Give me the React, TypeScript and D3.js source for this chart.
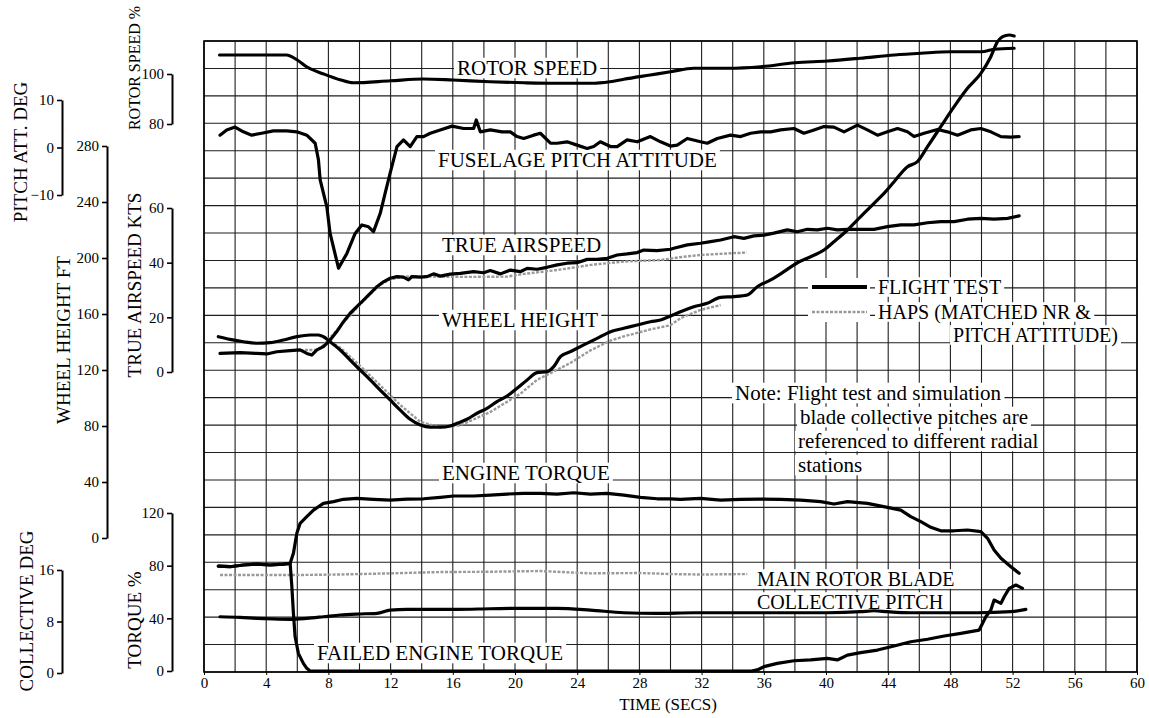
import React, { useEffect, useRef } from 'react';
import * as d3 from 'd3';

const W = 1149;
const H = 718;
const FONT = '"Liberation Serif", "Times New Roman", Times, serif';

// ---------- tick labels ----------
const timeTicks = [0, 4, 8, 12, 16, 20, 24, 28, 32, 36, 40, 44, 48, 52, 56, 60];
const pitchTicks = [-10, 0, 10];
const wheelTicks = [0, 40, 80, 120, 160, 200, 240, 280];
const rotorTicks = [80, 100];
const airTicks = [0, 20, 40, 60];
const torqueTicks = [0, 40, 80, 120];
const collTicks = [0, 8, 16];

// ---------- series (time s, value) ----------
const rotorSpeedFT: [number, number][] = [
  [1.0, 107.6], [5.3, 107.6], [6.0, 105.6], [6.6, 102.9], [7.7, 100.0], [8.8, 97.6], [9.6, 96.5],
  [12.0, 97.3], [14.1, 98.0], [16.0, 97.6], [18.4, 96.9], [20.6, 96.5], [22.7, 96.3], [24.9, 96.3],
  [26.1, 96.9], [27.0, 97.9], [28.7, 99.6], [30.0, 100.9], [31.5, 102.3], [33.7, 102.3], [35.8, 102.9],
  [38.0, 104.5], [40.1, 105.2], [42.2, 106.3], [44.4, 107.6], [46.1, 108.3], [48.0, 108.9], [50.0, 108.9],
  [50.8, 109.9], [52.1, 110.3],
];

const pitchFT: [number, number][] = [
  [1.03, 2.6], [1.46, 3.7], [2.0, 4.3], [2.53, 3.3], [3.07, 2.6], [3.71, 3.0], [4.46, 3.5], [5.32, 3.5],
  [5.97, 3.3], [6.61, 2.6], [7.15, 0.9], [7.36, -2.6], [7.47, -6.8], [7.9, -12.5], [8.11, -18.1],
  [8.65, -25.4], [9.19, -22.3], [9.72, -18.1], [10.15, -16.3], [10.58, -16.7], [10.9, -17.7],
  [11.33, -13.9], [11.65, -9.6], [11.97, -5.4], [12.41, 0.2], [12.83, 1.6], [13.26, 0.2], [13.69, 2.3],
  [14.12, 2.3], [14.55, 3.0], [15.19, 3.7], [15.95, 4.5], [16.69, 4.0], [17.34, 4.0], [17.51, 5.8],
  [17.77, 3.3], [18.41, 3.7], [19.17, 3.3], [19.7, 3.3], [20.13, 2.3], [20.56, 1.9], [21.2, 2.6],
  [21.63, 3.0], [22.28, 0.9], [22.71, 0.9], [23.35, 1.2], [23.99, 0.5], [24.64, -0.2], [25.06, 0.2],
  [25.49, 1.2], [26.14, 0.2], [26.57, 0.2], [27.21, 1.6], [27.86, 1.2], [28.71, 2.3], [29.36, 1.2],
  [30.0, 0.3], [30.43, 0.5], [31.08, 1.9], [31.93, 1.2], [32.36, 0.9], [33.01, 1.9], [33.86, 2.6],
  [34.51, 2.3], [35.15, 3.0], [35.79, 3.3], [36.44, 3.3], [37.08, 3.7], [37.94, 4.0], [38.58, 3.0],
  [39.23, 3.7], [39.87, 4.4], [40.51, 4.3], [41.16, 3.3], [42.02, 4.7], [42.66, 3.7], [43.31, 2.6],
  [43.95, 3.3], [44.6, 4.0], [45.24, 3.3], [45.66, 2.3], [46.31, 3.0], [47.17, 3.8], [47.81, 3.3],
  [48.46, 2.6], [49.31, 3.7], [49.96, 4.0], [50.6, 3.3], [51.25, 2.3], [51.89, 2.2], [52.42, 2.3],
];

const airspeedFT: [number, number][] = [
  [1.03, 6.8], [2.32, 7.1], [3.39, 6.8], [4.04, 6.6], [4.68, 7.4], [5.54, 7.8], [6.18, 8.1], [6.61, 6.8],
  [6.93, 6.2], [7.26, 8.1], [7.68, 9.3], [8.11, 11.7], [8.54, 14.8], [8.97, 18.4], [9.4, 21.5],
  [9.83, 23.9], [10.26, 26.3], [10.69, 28.8], [11.12, 31.2], [11.54, 33.0], [11.97, 34.3], [12.41, 34.9],
  [12.83, 34.7], [13.15, 33.7], [13.37, 34.9], [13.91, 34.7], [14.34, 34.9], [14.76, 35.9], [15.19, 35.1],
  [15.84, 35.8], [16.48, 36.1], [17.34, 36.7], [17.98, 36.3], [18.41, 37.1], [19.06, 35.9], [19.7, 37.3],
  [20.34, 36.7], [20.78, 37.9], [21.42, 37.6], [22.06, 38.3], [22.71, 39.2], [23.35, 39.8], [23.99, 40.0],
  [24.64, 41.2], [25.28, 41.2], [25.93, 41.6], [26.57, 42.8], [27.21, 43.2], [27.86, 43.7], [28.28, 44.6],
  [29.14, 44.4], [30.0, 44.9], [30.21, 45.3], [31.08, 46.5], [31.93, 47.1], [32.58, 47.7], [33.22, 48.3],
  [34.08, 49.5], [34.72, 48.9], [35.36, 49.8], [36.01, 50.1], [36.65, 50.8], [37.51, 52.0], [38.16, 51.3],
  [38.8, 52.2], [39.44, 52.0], [40.09, 52.6], [40.73, 52.0], [41.38, 52.2], [42.24, 52.2], [43.09, 52.2],
  [43.95, 53.2], [44.81, 53.8], [45.66, 53.8], [46.53, 54.6], [47.38, 55.0], [48.24, 55.0], [49.1, 55.9],
  [49.96, 56.2], [50.81, 55.9], [51.68, 56.2], [52.42, 57.1],
];

const airspeedHAPS: [number, number][] = [
  [6.2, 8.0], [7.3, 8.1], [7.7, 9.9], [9.0, 18.3], [10.3, 26.3], [11.3, 31.8], [12.0, 34.0], [13.3, 35.1],
  [15.2, 34.8], [17.1, 34.8], [19.5, 34.9], [20.6, 35.9], [22.7, 37.3], [24.9, 39.2], [27.0, 40.4],
  [29.4, 41.0], [30.6, 42.0], [31.9, 42.8], [33.7, 43.4], [34.9, 43.7],
];

const wheelHeightFT: [number, number][] = [
  [0.92, 143.8], [1.67, 141.9], [2.53, 140.2], [3.39, 139.1], [4.25, 139.5], [5.11, 141.4], [5.97, 143.8],
  [6.82, 145.0], [7.36, 145.0], [7.68, 143.8], [8.11, 140.2], [8.76, 134.3], [9.4, 127.1], [10.04, 120.0],
  [10.69, 112.9], [11.33, 105.7], [11.97, 98.6], [12.62, 91.4], [13.26, 84.8], [13.91, 80.7], [14.55, 79.1],
  [15.19, 79.1], [15.84, 80.0], [16.27, 81.9], [16.91, 84.8], [17.56, 89.1], [18.2, 92.6], [18.84, 97.4],
  [19.49, 101.4], [20.13, 106.9], [20.78, 112.9], [21.42, 118.1], [22.06, 118.8], [22.49, 122.4],
  [22.92, 129.5], [23.56, 133.1], [24.42, 137.9], [25.28, 142.6], [26.14, 147.4], [26.99, 149.8],
  [27.86, 152.1], [28.71, 154.5], [29.36, 155.7], [30.0, 158.6], [30.64, 161.6], [31.5, 165.2],
  [32.36, 167.6], [33.22, 171.9], [34.08, 172.4], [34.94, 173.6], [35.58, 179.5], [36.44, 184.3],
  [37.29, 190.2], [38.16, 196.6], [39.01, 200.9], [39.87, 205.7], [40.51, 211.6], [41.38, 220.0],
  [42.23, 229.5], [43.09, 239.1], [43.73, 246.2], [44.38, 254.5], [45.24, 265.2], [45.88, 268.8],
  [46.53, 279.5], [47.38, 293.8], [48.24, 308.1], [49.1, 321.2], [49.96, 331.9], [50.6, 343.8],
  [51.03, 354.5], [51.36, 358.1], [51.78, 359.3], [52.1, 358.6],
];

const wheelHeightHAPS: [number, number][] = [
  [7.4, 145.0], [8.76, 136.0], [10.04, 123.0], [11.33, 109.0], [12.62, 95.0], [13.91, 83.0], [15.19, 79.0],
  [16.48, 80.5], [18.41, 90.0], [20.34, 103.0], [21.42, 113.0], [22.5, 119.0], [23.56, 125.0],
  [24.85, 134.0], [26.14, 141.0], [27.0, 144.0], [28.71, 149.0], [30.0, 152.0], [30.64, 157.0],
  [31.93, 162.9], [33.22, 166.4],
];

const engineTorqueFT: [number, number][] = [
  [0.92, 79.7], [1.67, 79.2], [2.53, 80.5], [3.39, 81.2], [4.25, 80.5], [5.11, 81.2], [5.54, 81.8],
  [5.75, 89.4], [5.97, 104.6], [6.18, 112.1], [6.61, 117.2], [7.04, 122.2], [7.68, 127.3], [8.33, 128.6],
  [8.97, 130.4], [9.83, 131.1], [10.9, 130.4], [11.97, 129.8], [13.05, 130.6], [14.12, 130.8],
  [15.19, 131.9], [16.05, 132.9], [17.34, 132.9], [18.41, 133.6], [19.49, 134.4], [20.56, 134.9],
  [21.63, 134.9], [22.71, 134.4], [23.78, 135.4], [24.85, 134.4], [25.92, 134.9], [27.0, 133.6],
  [28.07, 131.9], [29.14, 130.8], [30.0, 130.8], [30.64, 130.4], [31.93, 131.1], [33.22, 129.8],
  [34.51, 130.4], [35.79, 130.6], [37.08, 130.4], [38.37, 129.8], [39.66, 128.6], [40.51, 126.8],
  [41.38, 128.6], [42.66, 127.3], [43.95, 124.3], [44.81, 122.2], [45.45, 117.2], [46.1, 113.4],
  [46.74, 109.1], [47.38, 106.5], [48.24, 106.5], [49.1, 107.1], [49.96, 105.8], [50.39, 100.8],
  [50.81, 91.9], [51.25, 85.6], [51.89, 79.2], [52.42, 74.2],
];

const failedTorqueFT: [number, number][] = [
  [0.92, 79.7], [1.67, 79.2], [2.53, 80.5], [3.39, 81.2], [4.25, 80.5], [5.11, 81.2], [5.54, 81.8],
  [5.65, 64.0], [5.75, 43.8], [5.86, 26.0], [6.07, 13.4], [6.39, 5.8], [6.61, 2.0], [6.82, 0.0],
  [35.2, 0.0], [35.58, 0.8], [36.01, 3.3], [36.87, 5.8], [37.94, 7.8], [39.01, 8.4], [40.09, 9.6],
  [40.73, 8.4], [41.38, 12.1], [42.23, 13.9], [43.31, 15.9], [44.38, 19.0], [45.45, 22.2], [46.53, 24.1],
  [47.6, 26.6], [48.67, 28.6], [49.85, 31.1], [50.07, 36.2], [50.28, 41.2], [50.6, 46.3], [50.81, 53.9],
  [51.25, 51.4], [51.46, 56.4], [51.78, 62.8], [52.21, 65.3], [52.64, 62.8],
];

const collectiveFT: [number, number][] = [
  [1.03, 8.74], [2.32, 8.65], [3.39, 8.49], [4.46, 8.39], [5.54, 8.34], [6.61, 8.49], [7.68, 8.74],
  [8.76, 9.01], [9.83, 9.16], [11.12, 9.27], [11.97, 9.78], [13.05, 9.89], [14.12, 9.89], [16.27, 9.89],
  [18.41, 9.98], [20.56, 10.05], [22.71, 10.05], [24.85, 9.78], [27.0, 9.36], [29.14, 9.27], [31.5, 9.36],
  [33.65, 9.36], [35.79, 9.36], [37.94, 9.36], [40.09, 9.36], [42.23, 9.52], [43.09, 9.67], [43.95, 9.52],
  [45.45, 9.36], [47.6, 9.36], [49.74, 9.36], [51.89, 9.52], [52.85, 9.89],
];

const collectiveHAPS: [number, number][] = [
  [1.03, 15.22], [5.54, 15.22], [5.97, 15.22], [8.76, 15.3], [11.97, 15.48], [15.19, 15.68], [18.41, 15.73],
  [21.63, 15.84], [24.85, 15.48], [28.07, 15.53], [30.0, 15.37], [31.93, 15.3], [34.94, 15.37],
];

// ---------- annotation text ----------
const curveLabels = [
  { text: 'ROTOR SPEED', x: 457, y: 68, size: 21 },
  { text: 'FUSELAGE PITCH ATTITUDE', x: 438, y: 160, size: 21 },
  { text: 'TRUE AIRSPEED', x: 442, y: 245, size: 21 },
  { text: 'WHEEL HEIGHT', x: 442, y: 320, size: 21 },
  { text: 'ENGINE TORQUE', x: 442, y: 473, size: 21 },
  { text: 'MAIN ROTOR BLADE', x: 757, y: 579, size: 20 },
  { text: 'COLLECTIVE PITCH', x: 757, y: 602, size: 20 },
  { text: 'FAILED ENGINE TORQUE', x: 317, y: 653, size: 21 },
];
const legendLabels = ['FLIGHT TEST', 'HAPS (MATCHED NR &', 'PITCH ATTITUDE)'];
const noteLines = [
  'Note: Flight test and simulation',
  'blade collective pitches are',
  'referenced to different radial',
  'stations',
];

export default function App() {
  const ref = useRef<SVGSVGElement>(null);

  useEffect(() => {
    const svg = d3.select(ref.current);
    svg.selectAll('*').remove();

    const x0 = 204, x1 = 1137, yTop = 41, yBot = 672;
    const x = d3.scaleLinear().domain([0, 60]).range([x0, x1]);
    const gridY = d3.scaleLinear().domain([0, 23]).range([yBot, yTop]);

    const rotorY = d3.scaleLinear().domain([80, 100]).range([124, 74]);
    const pitchY = d3.scaleLinear().domain([-10, 10]).range([195, 100]);
    const wheelY = d3.scaleLinear().domain([0, 280]).range([538, 146]);
    const airY = d3.scaleLinear().domain([0, 60]).range([372, 208]);
    const torqueY = d3.scaleLinear().domain([0, 120]).range([671, 513]);
    const collY = d3.scaleLinear().domain([0, 16]).range([673, 570]);

    const gGrid = svg.append('g');
    const gBox = svg.append('g');
    const gLines = svg.append('g');
    const gText = svg.append('g').attr('font-family', FONT).attr('fill', '#000');

    // grid
    gGrid.selectAll('line.v').data(d3.range(0, 61, 2)).join('line')
      .attr('x1', (d) => x(d)).attr('x2', (d) => x(d)).attr('y1', yTop).attr('y2', yBot)
      .attr('stroke', '#1e1e1e').attr('stroke-width', 1.1);
    gGrid.selectAll('line.h').data(d3.range(0, 24)).join('line')
      .attr('x1', x0).attr('x2', x1).attr('y1', (d) => gridY(d)).attr('y2', (d) => gridY(d))
      .attr('stroke', '#1e1e1e').attr('stroke-width', 1.1);
    gGrid.append('rect').attr('x', x0).attr('y', yTop).attr('width', x1 - x0).attr('height', yBot - yTop)
      .attr('fill', 'none').attr('stroke', '#000').attr('stroke-width', 1.6);

    // x axis
    const xa = svg.append('g').attr('transform', `translate(0,${yBot})`)
      .call(d3.axisBottom(x).tickValues(timeTicks).tickSize(3).tickPadding(2));
    xa.select('.domain').remove();
    xa.attr('font-family', FONT).attr('font-size', 15);
    xa.selectAll('text').attr('fill', '#000');
    xa.selectAll('line').attr('stroke', '#000');
    svg.append('text').attr('x', 668).attr('y', 710).attr('text-anchor', 'middle')
      .attr('font-family', FONT).attr('font-size', 17).text('TIME (SECS)');

    // left axes
    const leftAxis = (scale: d3.ScaleLinear<number, number>, ticks: number[], xPos: number) => {
      const g = svg.append('g').attr('transform', `translate(${xPos},0)`)
        .call(d3.axisLeft(scale).tickValues(ticks).tickSize(5).tickSizeOuter(0).tickPadding(3));
      g.attr('font-family', FONT).attr('font-size', 15);
      g.select('.domain').attr('stroke', '#000').attr('stroke-width', 2);
      g.selectAll('line').attr('stroke', '#000').attr('stroke-width', 1.6);
      g.selectAll('text').attr('fill', '#000');
    };
    leftAxis(pitchY, pitchTicks, 62);
    leftAxis(collY, collTicks, 62);
    leftAxis(wheelY, wheelTicks, 107);
    leftAxis(rotorY, rotorTicks, 172);
    leftAxis(airY, airTicks, 172);
    leftAxis(torqueY, torqueTicks, 172);

    const title = (t: string, xb: number, yc: number, size: number) => {
      svg.append('text').attr('transform', `translate(${xb},${yc}) rotate(-90)`)
        .attr('text-anchor', 'middle').attr('font-family', FONT).attr('font-size', size).text(t);
    };
    title('PITCH ATT. DEG', 27, 152, 19);
    title('WHEEL HEIGHT FT', 70, 340, 19);
    title('ROTOR SPEED %', 140, 68, 16);
    title('TRUE AIRSPEED KTS', 141, 285, 19);
    title('TORQUE %', 141, 620, 19);
    title('COLLECTIVE DEG', 33, 611, 19);

    // curves
    const mk = (sy: d3.ScaleLinear<number, number>, curve: d3.CurveFactory) =>
      d3.line<[number, number]>().x((d) => x(d[0])).y((d) => sy(d[1])).curve(curve);
    const ft = (data: [number, number][], sy: d3.ScaleLinear<number, number>, curve: d3.CurveFactory, w = 3.2) =>
      gLines.append('path').attr('d', mk(sy, curve)(data)).attr('fill', 'none').attr('stroke', '#000')
        .attr('stroke-width', w).attr('stroke-linejoin', 'round').attr('stroke-linecap', 'round');
    const haps = (data: [number, number][], sy: d3.ScaleLinear<number, number>) =>
      gLines.append('path').attr('d', mk(sy, d3.curveLinear)(data)).attr('fill', 'none').attr('stroke', '#9a9a9a')
        .attr('stroke-width', 2.4).attr('stroke-dasharray', '3 1.5');

    haps(airspeedHAPS, airY);
    haps(wheelHeightHAPS, wheelY);
    haps(collectiveHAPS, collY);
    ft(rotorSpeedFT, rotorY, d3.curveMonotoneX);
    ft(pitchFT, pitchY, d3.curveLinear);
    ft(airspeedFT, airY, d3.curveLinear);
    ft(wheelHeightFT, wheelY, d3.curveMonotoneX);
    ft(engineTorqueFT, torqueY, d3.curveLinear);
    ft(failedTorqueFT, torqueY, d3.curveLinear);
    ft(collectiveFT, collY, d3.curveMonotoneX);

    // labels with white boxes
    const boxed = (t: string, xx: number, yc: number, anchor = 'start', size = 21) => {
      const el = gText.append('text').attr('x', xx).attr('y', yc + size * 0.34)
        .attr('text-anchor', anchor).attr('font-size', size).text(t);
      const bb = (el.node() as SVGTextElement).getBBox();
      const h = size * 0.98;
      gBox.append('rect').attr('x', bb.x - 3).attr('y', yc - h / 2).attr('width', bb.width + 6).attr('height', h)
        .attr('fill', '#fff');
    };
    curveLabels.forEach((l) => boxed(l.text, l.x, l.y, 'start', l.size));

    // legend
    gLines.append('line').attr('x1', 812).attr('x2', 867).attr('y1', 287).attr('y2', 287)
      .attr('stroke', '#000').attr('stroke-width', 4);
    gLines.append('line').attr('x1', 812).attr('x2', 867).attr('y1', 312).attr('y2', 312)
      .attr('stroke', '#9a9a9a').attr('stroke-width', 2.4).attr('stroke-dasharray', '3 1.5');
    gBox.append('rect').attr('x', 808).attr('y', 278).attr('width', 62).attr('height', 44).attr('fill', '#fff');
    boxed(legendLabels[0], 878, 287, 'start', 20);
    boxed(legendLabels[1], 878, 312, 'start', 20);
    boxed(legendLabels[2], 1118, 335, 'end', 20);

    // note
    boxed(noteLines[0], 735, 393);
    boxed(noteLines[1], 800, 417);
    boxed(noteLines[2], 798, 441);
    boxed(noteLines[3], 798, 465);
  }, []);

  return (
    <svg ref={ref} width={W} height={H}
      style={{ position: 'absolute', left: 0, top: 0, background: '#fff', display: 'block' }} />
  );
}
